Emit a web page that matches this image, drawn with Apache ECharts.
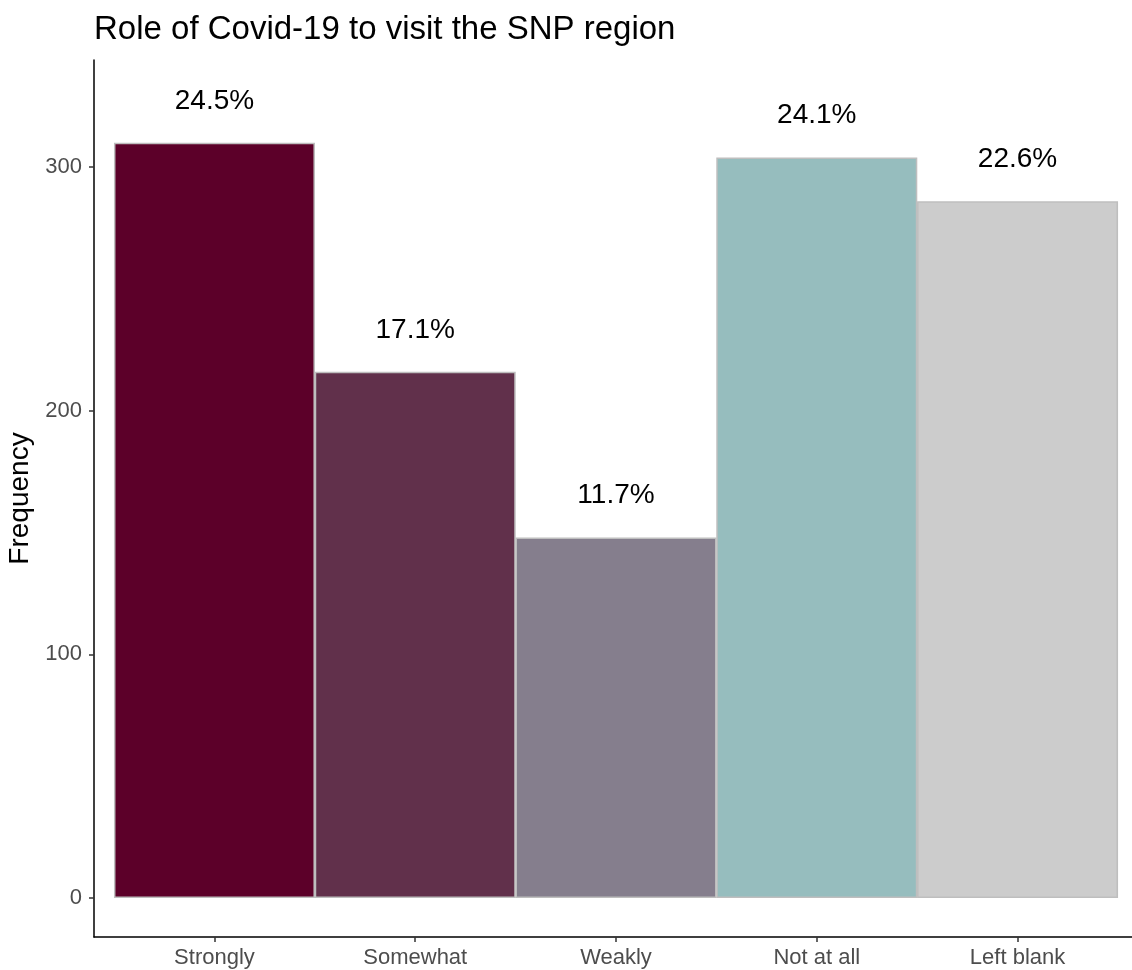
<!DOCTYPE html>
<html>
<head>
<meta charset="utf-8">
<script src="https://cdn.jsdelivr.net/npm/echarts@6/dist/echarts.min.js"></script>
<style>
  html, body { margin: 0; padding: 0; background: #fff; }
  #chart { width: 1132px; height: 970px; }
</style>
</head>
<body>
<div id="chart"></div>
<script>
var categories = ['Strongly', 'Somewhat', 'Weakly', 'Not at all', 'Left blank'];
var counts = [310, 216, 148, 304, 286];
var percentLabels = ['24.5%', '17.1%', '11.7%', '24.1%', '22.6%'];
var barColors = ['#5C0029', '#61304B', '#857E8D', '#96BDBE', '#CCCCCC'];
var yTicks = [0, 100, 200, 300];
var xPositions = [1, 2, 3, 4, 5];

var font = "'Liberation Sans', Arial, sans-serif";

var chart = echarts.init(document.getElementById('chart'));

var barData = counts.map(function (c, i) {
    return {
        value: [xPositions[i], c],
        itemStyle: { color: barColors[i] },
        label: { formatter: percentLabels[i] }
    };
});

var option = {
    animation: false,
    title: {
        text: 'Role of Covid-19 to visit the SNP region',
        left: 89,
        top: 8,
        textStyle: { fontFamily: font, fontSize: 33, fontWeight: 'normal', color: '#000' }
    },
    grid: {
        left: 94,
        top: 60,
        right: 0,
        bottom: 33,
        containLabel: false,
        outerBoundsMode: 'none'
    },
    xAxis: {
        type: 'value',
        min: 0.4,
        max: 5.57,
        axisLine: { show: true, onZero: false, lineStyle: { color: '#000', width: 1.5 } },
        axisTick: { show: true, customValues: xPositions, length: 5, lineStyle: { color: '#333', width: 1.5 } },
        axisLabel: {
            customValues: xPositions,
            formatter: function (v) { return categories[Math.round(v) - 1] || ''; },
            fontFamily: font, fontSize: 22, color: '#4D4D4D', margin: 10
        },
        splitLine: { show: false }
    },
    yAxis: {
        type: 'value',
        min: -16,
        max: 344,
        name: 'Frequency',
        nameLocation: 'middle',
        nameGap: 58,
        nameRotate: 90,
        nameTextStyle: { fontFamily: font, fontSize: 28, color: '#000' },
        axisLine: { show: true, onZero: false, lineStyle: { color: '#000', width: 1.5 } },
        axisTick: { show: true, customValues: yTicks, length: 5, lineStyle: { color: '#333', width: 1.5 } },
        axisLabel: {
            customValues: yTicks,
            fontFamily: font, fontSize: 22, color: '#4D4D4D', margin: 12
        },
        splitLine: { show: false }
    },
    series: [{
        type: 'bar',
        barWidth: 201,
        data: barData,
        itemStyle: { borderColor: '#BEBEBE', borderWidth: 1.5 },
        label: {
            show: true,
            position: 'top',
            distance: 28,
            fontFamily: font,
            fontSize: 28,
            color: '#000'
        }
    }]
};

chart.setOption(option);
</script>
</body>
</html>
